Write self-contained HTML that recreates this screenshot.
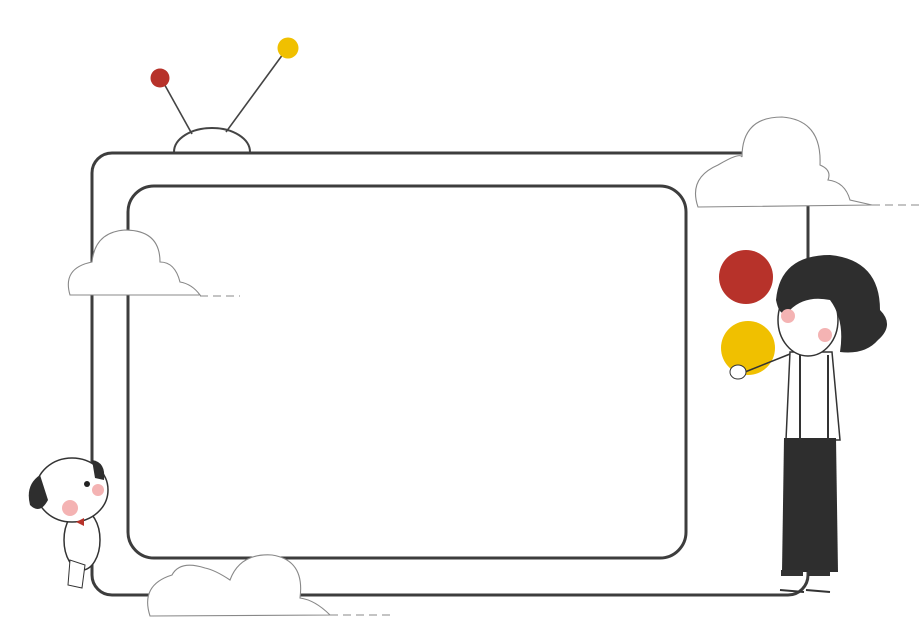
<!DOCTYPE html>
<html><head><meta charset="utf-8"><style>
html,body{margin:0;padding:0;background:#fff;}
svg{display:block;}
</style></head><body>
<svg width="922" height="635" viewBox="0 0 922 635" xmlns="http://www.w3.org/2000/svg">
<rect width="922" height="635" fill="#fff"/>
<!-- antenna -->
<path d="M174 152 A38 24 0 0 1 250 152" fill="none" stroke="#444" stroke-width="2"/>
<path d="M192 134 L162 80" stroke="#444" stroke-width="1.6" fill="none"/>
<path d="M226 132 L286 50" stroke="#444" stroke-width="1.6" fill="none"/>
<circle cx="160" cy="78" r="9.5" fill="#b7322a"/>
<circle cx="288" cy="48" r="10.5" fill="#f0c000"/>
<!-- TV -->
<rect x="92" y="153" width="716" height="442" rx="20" fill="none" stroke="#3d3d3d" stroke-width="3"/>
<rect x="128" y="186" width="558" height="372" rx="26" fill="none" stroke="#3d3d3d" stroke-width="3"/>
<!-- clouds -->
<g fill="#fff" stroke="#888" stroke-width="1.1">
<path d="M70 295 Q62 268 92 262 Q95 232 125 230 Q160 230 160 262 Q175 262 180 282 Q192 284 200 295 Z"/>
<path d="M698 207 Q688 178 718 165 Q740 152 742 157 Q742 117 782 117 Q822 120 820 165 Q832 170 828 180 Q845 182 850 200 L872 205 Z"/>
<path d="M150 616 Q140 585 172 575 Q180 560 205 568 Q215 570 230 580 Q240 553 272 555 Q305 560 300 598 Q315 600 330 615 Z"/>
</g>
<path d="M200 296 H240 M872 205 H922 M330 615 H392" stroke="#888" stroke-width="1" stroke-dasharray="8 5"/>
<!-- balls -->
<circle cx="746" cy="277" r="27" fill="#b7322a"/>
<circle cx="748" cy="348" r="27" fill="#f0c000"/>
<!-- girl -->
<path d="M790 352 L786 440 L840 440 L832 352 Z" fill="#fff" stroke="#333" stroke-width="1.5"/>
<path d="M784 438 L782 572 L838 572 L836 438 Z" fill="#2e2e2e"/>
<rect x="781" y="570" width="22" height="6" fill="#333"/>
<rect x="808" y="570" width="22" height="6" fill="#333"/>
<path d="M780 590 L804 592 M806 590 L830 592" stroke="#333" stroke-width="2"/>
<path d="M790 354 L745 372" stroke="#333" stroke-width="1.5"/>
<ellipse cx="738" cy="372" rx="8" ry="7" fill="#fff" stroke="#333"/>
<path d="M800 355 V440 M828 355 V440" stroke="#333" stroke-width="2"/>
<ellipse cx="808" cy="320" rx="30" ry="36" fill="#fff" stroke="#333" stroke-width="1.5"/>
<path d="M776 300 Q780 255 830 255 Q880 260 880 310 Q895 325 878 340 Q865 355 840 352 Q845 320 830 300 Q805 295 790 310 Q780 320 776 300 Z" fill="#2e2e2e"/>
<circle cx="788" cy="316" r="7" fill="#f4b3b3"/>
<circle cx="825" cy="335" r="7" fill="#f4b3b3"/>
<!-- dog -->
<ellipse cx="82" cy="540" rx="18" ry="30" fill="#fff" stroke="#333" stroke-width="1.5"/>
<path d="M70 560 L68 585 L82 588 L85 565 Z" fill="#fff" stroke="#333"/>
<ellipse cx="72" cy="490" rx="36" ry="32" fill="#fff" stroke="#333" stroke-width="1.5"/>
<path d="M40 475 Q25 485 30 505 Q40 515 48 500 Z" fill="#2e2e2e"/>
<path d="M92 460 Q106 462 104 480 L95 478 Z" fill="#2e2e2e"/>
<circle cx="70" cy="508" r="8" fill="#f4b3b3"/>
<circle cx="98" cy="490" r="6" fill="#f4b3b3"/>
<circle cx="87" cy="484" r="3" fill="#222"/>
<path d="M76 522 L84 518 L84 526 Z" fill="#b7322a"/>
</svg>
</body></html>
